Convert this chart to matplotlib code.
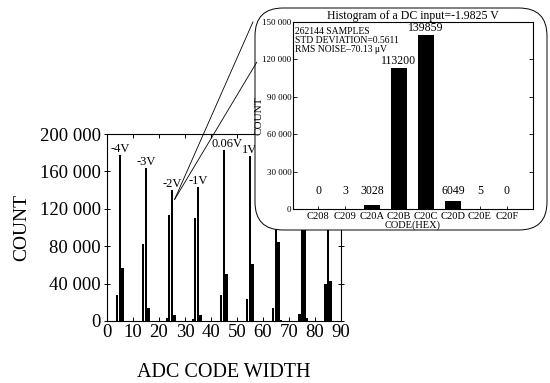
import numpy as np
import matplotlib
matplotlib.use("Agg")
import matplotlib.pyplot as plt
from matplotlib.patches import FancyBboxPatch, ConnectionPatch
from matplotlib.ticker import FuncFormatter

plt.rcParams['font.family'] = ['Liberation Serif', 'DejaVu Serif']

# main histogram: ADC code vs count (several DC inputs overlaid)
codes = [4, 5, 6, 14, 15, 16, 23, 24, 25, 26, 33, 34, 35, 36,
         44, 45, 46, 54, 55, 56, 64, 65, 66, 67, 74, 75, 76, 77, 84, 85, 86]
counts = [27800, 177500, 56700, 82000, 164000, 14000, 3028, 113200, 139859, 6049,
          2000, 110000, 143000, 6000, 27800, 183000, 50000, 23500, 176000, 61000,
          14000, 150000, 84000, 1500, 7500, 120000, 125000, 3000, 40000, 160000, 43000]
peak_codes = [5, 15, 25, 35, 45, 55]
peak_labels = ['-4V', '-3V', '-2V', '-1V', '0.06V', '1V']

# inset: histogram of a DC input = -1.9825 V
hex_codes = ['C208', 'C209', 'C20A', 'C20B', 'C20C', 'C20D', 'C20E', 'C20F']
hex_counts = [0, 3, 3028, 113200, 139859, 6049, 5, 0]
stats_text = "262144 SAMPLES\nSTD DEVIATION=0.5611\nRMS NOISE\u201370.13 \u03bcV"


def space_thousands(v, pos):
    return f"{int(v):,}".replace(",", " ")


fig = plt.figure(figsize=(5.5, 3.83), dpi=100)

# main chart
ax = fig.add_axes([0.1945, 0.162, 0.4255, 0.488])
ax.set_zorder(0)
ax.bar(codes, counts, width=0.85, color='black')
lookup = dict(zip(codes, counts))
for c, lab in zip(peak_codes, peak_labels):
    dx = 2 if lab == '0.06V' else 0
    ax.annotate(lab, (c, lookup[c]), xytext=(dx, 0), textcoords='offset points',
                ha='center', va='bottom', fontsize=9)
ax.set_xlim(0, 90)
ax.set_ylim(0, 200000)
ax.set_xticks(np.arange(0, 91, 10))
ax.set_yticks(np.arange(0, 200001, 40000))
ax.yaxis.set_major_formatter(FuncFormatter(space_thousands))
ax.tick_params(axis='both', labelsize=13.5, direction='in', top=True, right=True,
               length=3, width=0.7, pad=2)
ax.tick_params(axis='y', direction='inout', length=5)
for s in ax.spines.values():
    s.set_linewidth(0.8)
ax.set_xlabel('ADC CODE WIDTH', fontsize=14.5, labelpad=16)
ax.set_ylabel('COUNT', fontsize=14, labelpad=7)

# rounded callout box behind the inset
box = FancyBboxPatch((2.55, 1.53), 2.92, 2.22,
                     boxstyle="round,pad=0,rounding_size=0.28",
                     transform=fig.dpi_scale_trans, facecolor='white',
                     edgecolor='black', linewidth=0.7, zorder=1)
fig.add_artist(box)

# pointer lines from the -2V peak to the box
for xy_end in [(0.460, 0.943), (0.467, 0.838)]:
    con = ConnectionPatch(xyA=(26.0, 130000), coordsA=ax.transData,
                          xyB=xy_end, coordsB='figure fraction',
                          color='black', linewidth=0.6, zorder=1.5)
    fig.add_artist(con)

# inset chart
axi = fig.add_axes([0.5327, 0.4543, 0.436, 0.488])
axi.set_zorder(2)
xi = np.arange(len(hex_codes))
axi.bar(xi, hex_counts, width=0.58, color='black')
for x, v in zip(xi, hex_counts):
    axi.annotate(str(v), (x, max(v, 9000)), xytext=(0, 0.5), textcoords='offset points',
                 ha='center', va='bottom', fontsize=8.5)
axi.set_xlim(-0.93, 7.96)
axi.set_ylim(0, 150000)
axi.set_xticks(xi)
axi.set_xticklabels(hex_codes)
axi.set_yticks(np.arange(0, 150001, 30000))
axi.yaxis.set_major_formatter(FuncFormatter(space_thousands))
axi.tick_params(axis='x', labelsize=7.6, direction='in', length=2, pad=2, width=0.6)
axi.tick_params(axis='y', labelsize=6.5, direction='in', right=True, length=3,
                pad=1, width=0.6)
for s in axi.spines.values():
    s.set_linewidth(0.8)
axi.set_title('Histogram of a DC input=-1.9825 V', fontsize=8.5, pad=2)
axi.set_xlabel('CODE(HEX)', fontsize=7.5, labelpad=0)
axi.set_ylabel('COUNT', fontsize=8)
axi.yaxis.set_label_coords(-0.125, 0.5)
axi.text(0.008, 0.975, stats_text, transform=axi.transAxes, fontsize=6.9,
         va='top', ha='left', linespacing=1.05)

fig.savefig('out.png', dpi=100)
